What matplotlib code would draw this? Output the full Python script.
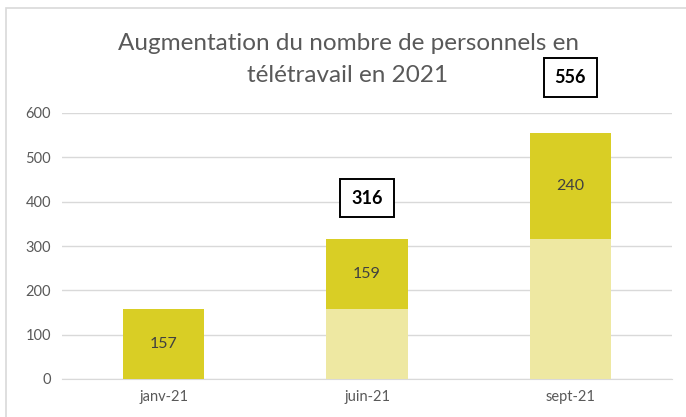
import matplotlib.pyplot as plt
import numpy as np
from matplotlib.patches import Rectangle

# données
mois = ['janv-21', 'juin-21', 'sept-21']
base = [0, 157, 316]
hausse = [157, 159, 240]
totaux = [None, 316, 556]
pos_etiquette = [None, 408, 680]
titre = ['Augmentation du nombre de personnels en', 'télétravail en 2021']

plt.rcParams['font.family'] = ['Lato', 'DejaVu Sans']

fig = plt.figure(figsize=(6.86, 4.17), dpi=100)
ax = fig.add_axes([62 / 686, 1 - 379 / 417, 610 / 686, 266 / 417])

# cadre gris autour du graphique
fig.patches.append(Rectangle((6 / 686, -0.05), 1.0, 1 - 8 / 417 + 0.05,
                             transform=fig.transFigure, fill=False,
                             edgecolor='#D9D9D9', linewidth=1.2))

x = np.arange(len(mois))
ax.bar(x, base, width=0.4, color='#EEE8A2', zorder=3)
ax.bar(x, hausse, bottom=base, width=0.4, color='#D9CE25', zorder=3)

for xi, b, h in zip(x, base, hausse):
    ax.text(xi, b + h / 2, str(h), ha='center', va='center',
            fontsize=11.5, color='#404040', zorder=4)

for xi, t, py in zip(x, totaux, pos_etiquette):
    if t is None:
        continue
    ax.text(xi, py, str(t), ha='center', va='center', fontsize=13,
            fontweight='bold', color='black', zorder=5,
            bbox=dict(boxstyle='square,pad=0.6', facecolor='white',
                      edgecolor='black', linewidth=1.4))

ax.set_xlim(-0.5, 2.5)
ax.set_ylim(0, 600)
ax.set_yticks(range(0, 601, 100))
ax.set_xticks(x)
ax.set_xticklabels(mois)
ax.grid(axis='y', color='#D9D9D9', linewidth=1, zorder=0)
for s in ['top', 'right', 'left']:
    ax.spines[s].set_visible(False)
ax.spines['bottom'].set_color('#D9D9D9')
ax.tick_params(length=0, labelsize=10.5, labelcolor='#595959', pad=8)

# titre sur deux lignes, une ligne par texte
for ligne, yp in zip(titre, [44, 75]):
    fig.text(348 / 686, 1 - yp / 417, ligne, ha='center', va='center',
             fontsize=17.5, color='#595959')

fig.savefig('out.png', dpi=100)
